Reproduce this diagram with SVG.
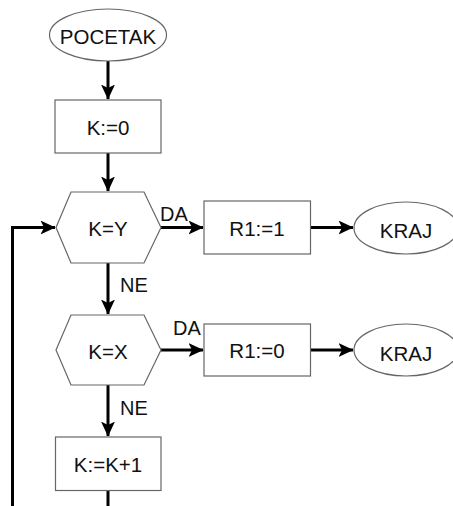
<svg xmlns="http://www.w3.org/2000/svg" width="453" height="506" viewBox="0 0 453 506">
  <style>
    .shape { fill: #ffffff; stroke: #666666; stroke-width: 1.2; }
    .label { font-family: "Liberation Sans", Arial, sans-serif; font-size: 20.5px; fill: #111111; text-anchor: middle; dominant-baseline: central; }
    .edge-label { font-family: "Liberation Sans", Arial, sans-serif; font-size: 20px; fill: #111111; }
    .wire { fill: none; stroke: #000000; stroke-width: 3; }
  </style>
  <defs>
    <marker id="arrow" viewBox="0 0 15 14" refX="14.5" refY="7" markerWidth="15" markerHeight="14" markerUnits="userSpaceOnUse" orient="auto">
      <path d="M0,0 L15,7 L0,14 L3.5,7 Z" fill="#000000"/>
    </marker>
  </defs>
  <rect width="453" height="506" fill="#ffffff"/>

  <g id="connectors">
    <path class="wire" d="M108,61 V99" marker-end="url(#arrow)"/>
    <path class="wire" d="M108,153 V191" marker-end="url(#arrow)"/>
    <path class="wire" d="M161,227.5 H203" marker-end="url(#arrow)"/>
    <path class="wire" d="M310.5,227.5 H353" marker-end="url(#arrow)"/>
    <path class="wire" d="M108,263 V314" marker-end="url(#arrow)"/>
    <path class="wire" d="M161,350 H203" marker-end="url(#arrow)"/>
    <path class="wire" d="M310.5,350 H353" marker-end="url(#arrow)"/>
    <path class="wire" d="M108,385 V436" marker-end="url(#arrow)"/>
    <path class="wire" d="M108,490.5 V506"/>
    <path class="wire" d="M12.5,506 V227.5 H55" marker-end="url(#arrow)"/>
    <text class="edge-label" x="160" y="221">DA</text>
    <text class="edge-label" x="120" y="291.5">NE</text>
    <text class="edge-label" x="173" y="335">DA</text>
    <text class="edge-label" x="120" y="414.5">NE</text>
  </g>

  <g id="start">
    <ellipse class="shape" cx="108" cy="35" rx="58.5" ry="26"/>
    <text class="label" x="108" y="36">POCETAK</text>
  </g>

  <g id="init">
    <rect class="shape" x="55" y="100" width="106" height="53"/>
    <text class="label" x="108" y="127">K:=0</text>
  </g>

  <g id="test-y">
    <polygon class="shape" points="56,227.5 71,192 144,192 161,227.5 144,263 71,263"/>
    <text class="label" x="108" y="228.5">K=Y</text>
  </g>

  <g id="set-one">
    <rect class="shape" x="204" y="201" width="106.5" height="53"/>
    <text class="label" x="257" y="228">R1:=1</text>
  </g>

  <g id="end-one">
    <ellipse class="shape" cx="406" cy="228" rx="52" ry="26"/>
    <text class="label" x="406" y="230">KRAJ</text>
  </g>

  <g id="test-x">
    <polygon class="shape" points="56,350 71,315 144,315 161,350 144,385 71,385"/>
    <text class="label" x="108" y="351">K=X</text>
  </g>

  <g id="set-zero">
    <rect class="shape" x="204" y="324" width="106.5" height="52"/>
    <text class="label" x="257" y="350.5">R1:=0</text>
  </g>

  <g id="end-zero">
    <ellipse class="shape" cx="406" cy="350" rx="52" ry="26"/>
    <text class="label" x="406" y="353">KRAJ</text>
  </g>

  <g id="increment">
    <rect class="shape" x="55.5" y="437" width="105.5" height="53.5"/>
    <text class="label" x="108" y="464">K:=K+1</text>
  </g>
</svg>
